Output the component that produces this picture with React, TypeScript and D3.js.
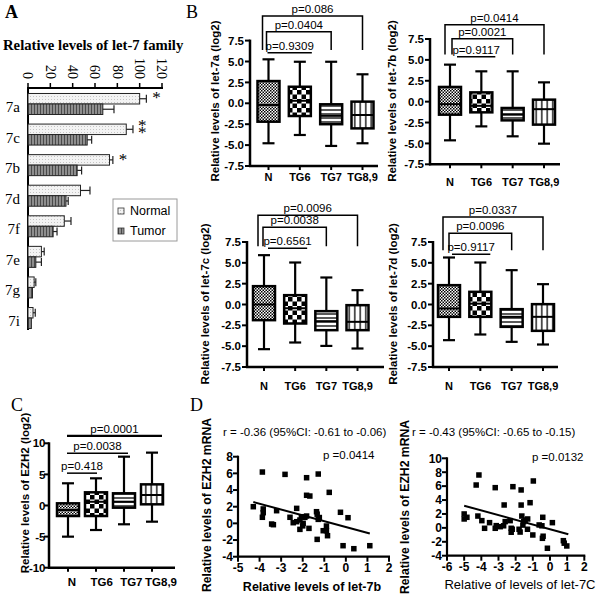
import React from 'react';
import * as d3 from 'd3';

// ---------- Panel A data ----------
const letCats = ['7a', '7c', '7b', '7d', '7f', '7e', '7g', '7i'];
const normalMean = [100, 88, 73, 47, 32.5, 12, 5.5, 4.5];
const normalSem = [6, 6, 3, 8.5, 6, 2.5, 1.5, 2];
const tumorMean = [67, 53, 44, 34, 22.5, 7, 4, 3];
const tumorSem = [10, 4, 4, 2, 3.5, 5, 0, 0];
const sigMarks = ['*', '**', '*', '', '', '', '', ''];
const aTicks = [0, 20, 40, 60, 80, 100, 120];

// ---------- Panel B / C data ----------
const groups = ['N', 'TG6', 'TG7', 'TG8,9'];
// [min, q1, median, q3, max]
const let7aStats = [[-4.78, -2.2, -0.2, 2.66, 5.26], [-3.79, -1.52, 0.3, 1.98, 4.97], [-5.1, -2.5, -1.5, -0.12, 4.97], [-4.78, -3.0, -1.4, 0.2, 3.47]];
const let7bStats = [[-4.63, -1.56, -0.3, 1.76, 4.43], [-2.96, -1.28, -0.5, 1.11, 3.63], [-4.15, -2.24, -1.56, -0.76, 3.63], [-5.03, -2.75, -0.9, 0.24, 2.31]];
const let7cStats = [[-5.36, -1.88, 0, 2.2, 5.92], [-4.56, -2.28, -0.45, 1.12, 5.04], [-4.97, -3.08, -2.0, -0.8, 3.24], [-5.28, -3.08, -2.08, -0.08, 1.72]];
const let7dStats = [[-4.28, -1.48, -0.48, 2.32, 5.64], [-3.6, -1.48, 0.1, 1.52, 5.04], [-4.48, -2.68, -1.48, -0.56, 4.12], [-4.8, -3.16, -1.48, 0.04, 2.44]];
const ezh2Stats = [[-5.01, -1.69, -0.72, 0.35, 3.57], [-3.94, -1.69, 0.6, 2.12, 4.37], [-3.02, -0.35, 0.61, 1.96, 7.85], [-2.6, 0.19, 1.69, 3.4, 8.5]];

const pTargets = [3, 2, 1];
const let7aP = ['p=0.086', 'p=0.0404', 'p=0.9309'];
const let7aPLevel = [10.43, 8.55, 6.05];
const let7aPLeg = [6.37, 6.37, 6.05];
const let7bP = ['p=0.0414', 'p=0.0021', 'p=0.9117'];
const let7bPLevel = [9.22, 7.54, 5.39];
const let7bPLeg = [5.63, 5.63, 5.39];
const let7cP = ['p=0.0096', 'p=0.0038', 'p=0.6561'];
const let7cPLevel = [10.72, 9.28, 6.76];
const let7cPLeg = [7.0, 7.0, 6.76];
const let7dP = ['p=0.0337', 'p=0.0096', 'p=0.9117'];
const let7dPLevel = [10.5, 8.56, 6.04];
const let7dPLeg = [6.5, 6.5, 6.04];
const ezh2P = ['p=0.0001', 'p=0.0038', 'p=0.418'];
const ezh2PLevel = [11.2, 8.4, 5.2];

const bTicks = [-7.5, -5, -2.5, 0, 2.5, 5, 7.5];
const cTicks = [-10, -5, 0, 5, 10];

// ---------- Panel D data ----------
const let7bX = [-4.29, -3.87, -2.82, -1.82, -1.28, -1.82, -1.67, -0.77, -3.83, -3.83, -3.87, -3.21, -3.44, -3.36, -2.59, -2.28, -2.44, -2.28, -2.13, -2.06, -2.13, -1.98, -1.9, -1.82, -1.71, -2.0, -1.36, -1.33, -1.28, -1.23, -1.33, -1.05, -0.9, -0.9, -0.85, -0.25, 0.1, -0.13, 0.37, 1.11];
const ezhY1 = [2.0, 6.16, 5.88, 5.48, 5.92, 3.37, 3.28, 3.72, 1.73, 1.28, 0.73, 1.52, -0.08, -0.16, 0.73, 1.8, 0.08, 0.2, 0.4, 0.8, -0.72, 0.0, 0.72, 0.88, -0.6, -0.3, 1.4, 1.1, 0.48, 0.7, -1.92, -0.88, -0.88, -0.32, -1.48, 1.33, 0.68, -2.68, -3.04, -2.68];
const let7cX = [-5.0, -5.0, -4.84, -4.3, -4.14, -4.2, -3.97, -3.81, -3.52, -3.19, -3.19, -3.13, -2.9, -2.67, -2.61, -2.7, -2.32, -2.26, -2.16, -2.26, -2.2, -1.8, -1.74, -1.68, -1.68, -1.64, -1.53, -1.58, -1.45, -1.3, -1.31, -1.16, -1.0, -0.97, -0.63, -0.47, -0.42, -0.44, -0.4, -0.15, 0.14, 0.78, 0.98, 0.83];
const ezhY2 = [2.0, 1.28, 1.52, 6.16, 7.6, 1.7, 1.04, -0.06, 0.75, 5.78, -0.06, 0.32, 0.17, 3.29, 0.9, 0.3, 1.04, -0.06, 5.92, -0.63, -0.2, -0.2, -0.6, 5.45, 3.28, 1.7, 0.9, 0.4, 1.13, 1.28, -0.2, 3.62, -1.02, 6.74, 0.42, 0.3, 1.52, -1.5, -1.2, -2.93, 0.75, -1.84, -2.6, -2.2];
const fit1 = { slope: -0.70, intercept: -0.44, x0: -4.29, x1: 1.11 };
const fit2 = { slope: -0.677, intercept: -0.2, x0: -5.0, x1: 1.07 };

const SANS = 'Arial, "Liberation Sans", Helvetica, sans-serif';
const SERIF = '"Times New Roman", "Liberation Serif", serif';

function Patterns() {
  return (
    <defs>
      <pattern id="pDots" width="3" height="3" patternUnits="userSpaceOnUse">
        <rect width="3" height="3" fill="#fff" />
        <rect width="1.5" height="1.5" fill="#000" />
        <rect x="1.5" y="1.5" width="1.5" height="1.5" fill="#000" />
      </pattern>
      <pattern id="pChecker" width="9" height="9" patternUnits="userSpaceOnUse">
        <rect width="9" height="9" fill="#fff" />
        <rect width="4.5" height="4.5" fill="#000" />
        <rect x="4.5" y="4.5" width="4.5" height="4.5" fill="#000" />
      </pattern>
      <pattern id="pHlines" width="4" height="4" patternUnits="userSpaceOnUse">
        <rect width="4" height="4" fill="#fff" />
        <line x1="0" x2="4" y1="2" y2="2" stroke="#000" strokeWidth="1.3" />
      </pattern>
      <pattern id="pVlines" width="5.5" height="5.5" patternUnits="userSpaceOnUse">
        <rect width="5.5" height="5.5" fill="#fff" />
        <line x1="2.75" x2="2.75" y1="0" y2="5.5" stroke="#000" strokeWidth="1.3" />
      </pattern>
      <pattern id="pNormal" width="3" height="3" patternUnits="userSpaceOnUse">
        <rect width="3" height="3" fill="#f3f3f3" />
        <rect width="1" height="1" fill="#c4c4c4" />
      </pattern>
      <pattern id="pTumor" width="3" height="3" patternUnits="userSpaceOnUse">
        <rect width="3" height="3" fill="#8e8e8e" />
        <rect x="1" width="1" height="3" fill="#4a4a4a" />
      </pattern>
    </defs>
  );
}

const boxFills = ['url(#pDots)', 'url(#pChecker)', 'url(#pHlines)', 'url(#pVlines)'];

function PanelA() {
  const x = d3.scaleLinear().domain([0, 120]).range([28, 162]);
  const y = d3.scaleBand().domain(letCats).range([88.7, 333.3]);
  const mid = (c: string) => (y(c) as number) + y.bandwidth() / 2;
  const bh = 10.5;
  return (
    <g>
      <text x={3} y={50} fontFamily={SERIF} fontWeight="bold" fontSize={14.7}>Relative levels of let-7 family</text>
      {aTicks.map((t) => (
        <g key={t}>
          <line x1={x(t)} x2={x(t)} y1={88} y2={83} stroke="#000" strokeWidth={1.5} />
          <text transform={`translate(${x(t)},79) rotate(90)`} textAnchor="end" dy="0.33em" fontFamily={SERIF} fontSize={14}>{t}</text>
        </g>
      ))}
      <line x1={27} x2={x(120) + 1} y1={88} y2={88} stroke="#000" strokeWidth={2} />
      <line x1={28} x2={28} y1={87} y2={330} stroke="#000" strokeWidth={2} />
      {letCats.map((c, i) => {
        const m = mid(c);
        const nEnd = x(normalMean[i]);
        const tEnd = x(tumorMean[i]);
        const nErr = x(normalMean[i] + normalSem[i]);
        const tErr = x(tumorMean[i] + tumorSem[i]);
        return (
          <g key={c}>
            <text x={20} y={m + 8} textAnchor="end" fontFamily={SERIF} fontSize={15}>{c}</text>
            <rect x={x(0)} y={m - bh} width={nEnd - x(0)} height={bh} fill="url(#pNormal)" stroke="#222" strokeWidth={1} />
            <rect x={x(0)} y={m} width={tEnd - x(0)} height={bh} fill="url(#pTumor)" stroke="#222" strokeWidth={1} />
            {normalSem[i] > 0 && (
              <g stroke="#222" strokeWidth={1.2}>
                <line x1={nEnd} x2={nErr} y1={m - bh / 2} y2={m - bh / 2} />
                <line x1={nErr} x2={nErr} y1={m - bh / 2 - 4} y2={m - bh / 2 + 4} />
              </g>
            )}
            {tumorSem[i] > 0 && (
              <g stroke="#222" strokeWidth={1.2}>
                <line x1={tEnd} x2={tErr} y1={m + bh / 2} y2={m + bh / 2} />
                <line x1={tErr} x2={tErr} y1={m + bh / 2 - 4} y2={m + bh / 2 + 4} />
              </g>
            )}
            {sigMarks[i] === '*' && (
              <text x={nErr + 6} y={m - 0.5} fontFamily={SERIF} fontSize={17}>*</text>
            )}
            {sigMarks[i] === '**' && (
              <text x={nErr + 5} y={m - 3.5} fontFamily={SERIF} fontSize={17}>
                <tspan>*</tspan>
                <tspan x={nErr + 5} dy={6.5}>*</tspan>
              </text>
            )}
          </g>
        );
      })}
      <rect x={113} y={199} width={64} height={42} fill="#fff" stroke="#9a9a9a" strokeWidth={1} />
      <rect x={118} y={208} width={6} height={6} fill="url(#pNormal)" stroke="#333" strokeWidth={0.8} />
      <text x={130} y={214.5} fontFamily={SANS} fontSize={12.5}>Normal</text>
      <rect x={118} y={228} width={6} height={6} fill="url(#pTumor)" stroke="#333" strokeWidth={0.8} />
      <text x={130} y={235} fontFamily={SANS} fontSize={12.5}>Tumor</text>
    </g>
  );
}

type BoxProps = {
  stats: number[][];
  pLabels: string[];
  pLevel: number[];
  pLeg?: number[];
  legs: boolean;
  leftOff: number[];
  rightOff: number[];
  yDomain: [number, number];
  yRange: [number, number];
  ticks: number[];
  fmt: (v: number) => string;
  tickGap: number;
  axisX: number;
  axisXEnd: number;
  catRange: [number, number];
  catLabelRange: [number, number];
  catLabelY: number;
  catFont: number;
  ylabel: string;
  ylabelX: number;
  ylabelY: number;
  firstBold?: boolean;
};

function BoxPanel(p: BoxProps) {
  const y = d3.scaleLinear().domain(p.yDomain).range(p.yRange);
  const x = d3.scalePoint().domain(groups).range(p.catRange);
  const xl = d3.scalePoint().domain(groups).range(p.catLabelRange);
  const bw = 22;
  const cw = 12;
  const base = y(p.yDomain[0]);
  const top = y(p.yDomain[1]);
  return (
    <g>
      <line x1={p.axisX} x2={p.axisX} y1={top - 1} y2={base + 1} stroke="#000" strokeWidth={2.5} />
      <line x1={p.axisX - 1} x2={p.axisXEnd} y1={base} y2={base} stroke="#000" strokeWidth={2.5} />
      {p.ticks.map((t) => (
        <g key={t}>
          <line x1={p.axisX - 5} x2={p.axisX} y1={y(t)} y2={y(t)} stroke="#000" strokeWidth={2} />
          <text x={p.axisX - p.tickGap} y={y(t)} dy="0.36em" textAnchor="end" fontFamily={SANS} fontWeight="bold" fontSize={11.5}>{p.fmt(t)}</text>
        </g>
      ))}
      {groups.map((g) => (
        <g key={g}>
          <line x1={x(g)} x2={x(g)} y1={base} y2={base + 4} stroke="#000" strokeWidth={2} />
          <text x={xl(g)} y={p.catLabelY} textAnchor="middle" fontFamily={SANS} fontWeight="bold" fontSize={p.catFont}>{g}</text>
        </g>
      ))}
      {p.stats.map((s, i) => {
        const cx = x(groups[i]) as number;
        const [mn, q1, md, q3, mx] = s;
        return (
          <g key={i} stroke="#000">
            <line x1={cx} x2={cx} y1={y(mx)} y2={y(q3)} strokeWidth={2.2} />
            <line x1={cx} x2={cx} y1={y(q1)} y2={y(mn)} strokeWidth={2.2} />
            <line x1={cx - cw / 2} x2={cx + cw / 2} y1={y(mx)} y2={y(mx)} strokeWidth={2.2} />
            <line x1={cx - cw / 2} x2={cx + cw / 2} y1={y(mn)} y2={y(mn)} strokeWidth={2.2} />
            <rect x={cx - bw / 2} y={y(q3)} width={bw} height={y(q1) - y(q3)} fill={boxFills[i]} strokeWidth={2.5} />
            <line x1={cx - bw / 2} x2={cx + bw / 2} y1={y(md)} y2={y(md)} strokeWidth={2} />
          </g>
        );
      })}
      {p.pLabels.map((lab, i) => {
        const left = (x(groups[0]) as number) + p.leftOff[i];
        const right = (x(groups[pTargets[i]]) as number) + p.rightOff[i];
        const ty = y(p.pLevel[i]);
        const hasLegs = p.legs && p.pLeg && p.pLeg[i] < p.pLevel[i] - 0.01;
        const d = hasLegs
          ? `M${left},${y(p.pLeg![i])}V${ty}H${right}V${y(p.pLeg![i])}`
          : `M${left},${ty}H${right}`;
        return (
          <g key={lab + i}>
            <path d={d} fill="none" stroke="#000" strokeWidth={i === 0 && p.firstBold ? 2.2 : 1.5} />
            <text x={(left + right) / 2} y={ty - 3} textAnchor="middle" fontFamily={SANS} fontSize={11.5}>{lab}</text>
          </g>
        );
      })}
      <text transform={`translate(${p.ylabelX},${p.ylabelY}) rotate(-90)`} textAnchor="middle" dy="0.35em" fontFamily={SANS} fontWeight="bold" fontSize={11.5}>{p.ylabel}</text>
    </g>
  );
}

type ScatterProps = {
  xs: number[];
  ys: number[];
  xDomain: [number, number];
  xRange: [number, number];
  yDomain: [number, number];
  yRange: [number, number];
  xTicks: number[];
  yTicks: number[];
  fit: { slope: number; intercept: number; x0: number; x1: number };
  rText: string;
  rX: number;
  pText: string;
  pX: number;
  pY: number;
  xlabel: string;
  xlabelX: number;
  xlabelY: number;
  xlabelBold: boolean;
  ylabelX: number;
  ylabelY: number;
};

function ScatterPanel(p: ScatterProps) {
  const x = d3.scaleLinear().domain(p.xDomain).range(p.xRange);
  const y = d3.scaleLinear().domain(p.yDomain).range(p.yRange);
  const x0 = x(p.xDomain[0]);
  const y0 = y(p.yDomain[0]);
  const ms = 5.5;
  return (
    <g>
      <line x1={x0} x2={x0} y1={y(p.yDomain[1]) - 1} y2={y0 + 1} stroke="#000" strokeWidth={2.2} />
      <line x1={x0 - 1} x2={x(p.xDomain[1]) + 1} y1={y0} y2={y0} stroke="#000" strokeWidth={2.2} />
      {p.yTicks.map((t) => (
        <g key={t}>
          <line x1={x0 - 5} x2={x0} y1={y(t)} y2={y(t)} stroke="#000" strokeWidth={2} />
          <text x={x0 - 5} y={y(t)} dy="0.36em" textAnchor="end" fontFamily={SANS} fontWeight="bold" fontSize={12}>{String(t)}</text>
        </g>
      ))}
      {p.xTicks.map((t) => (
        <g key={t}>
          <line x1={x(t)} x2={x(t)} y1={y0} y2={y0 + 5} stroke="#000" strokeWidth={2} />
          <text x={x(t)} y={y0 + 15} textAnchor="middle" fontFamily={SANS} fontWeight="bold" fontSize={12}>{String(t)}</text>
        </g>
      ))}
      {p.xs.map((v, i) => (
        <rect key={i} x={x(v) - ms / 2} y={y(p.ys[i]) - ms / 2} width={ms} height={ms} fill="#000" />
      ))}
      <line x1={x(p.fit.x0)} x2={x(p.fit.x1)} y1={y(p.fit.intercept + p.fit.slope * p.fit.x0)} y2={y(p.fit.intercept + p.fit.slope * p.fit.x1)} stroke="#000" strokeWidth={2} />
      <text transform={`translate(${p.ylabelX},${p.ylabelY}) rotate(-90)`} textAnchor="middle" dy="0.35em" fontFamily={SANS} fontWeight="bold" fontSize={12.2}>Relative levels of EZH2 mRNA</text>
      <text x={p.rX} y={436} fontFamily={SANS} fontSize={11.5}>{p.rText}</text>
      <text x={p.pX} y={p.pY} fontFamily={SANS} fontSize={11.5}>{p.pText}</text>
      <text x={p.xlabelX} y={p.xlabelY} textAnchor="middle" fontFamily={SANS} fontWeight={p.xlabelBold ? 'bold' : 'normal'} fontSize={p.xlabelBold ? 12.5 : 13}>{p.xlabel}</text>
    </g>
  );
}

const fmtB = (v: number) => v.toFixed(1);
const fmtC = (v: number) => String(v);

export default function App() {
  return (
    <svg width={603} height={598} style={{ position: 'absolute', left: 0, top: 0, background: '#fff' }}>
      <Patterns />
      <rect width={603} height={598} fill="#fff" />
      <text x={5} y={18} fontFamily={SERIF} fontWeight="bold" fontSize={18}>A</text>
      <text x={186} y={18} fontFamily={SERIF} fontSize={18}>B</text>
      <text x={11} y={411} fontFamily={SERIF} fontSize={18}>C</text>
      <text x={190} y={411} fontFamily={SERIF} fontSize={18}>D</text>
      <PanelA />
      <BoxPanel stats={let7aStats} pLabels={let7aP} pLevel={let7aPLevel} pLeg={let7aPLeg} legs={true}
        leftOff={[-6, -2, -1]} rightOff={[0, 0, 12]} yDomain={[-7.5, 7.5]} yRange={[166, 40.6]} ticks={bTicks} fmt={fmtB} tickGap={6}
        axisX={250} axisXEnd={378} catRange={[268.5, 362.5]} catLabelRange={[268.5, 362.5]} catLabelY={181} catFont={11}
        ylabel="Relative levels of let-7a (log2)" ylabelX={215} ylabelY={101} />
      <BoxPanel stats={let7bStats} pLabels={let7bP} pLevel={let7bPLevel} pLeg={let7bPLeg} legs={true}
        leftOff={[-5, 2, 7]} rightOff={[0, 0, 14]} yDomain={[-7.5, 7.5]} yRange={[164.3, 39]} ticks={bTicks} fmt={fmtB} tickGap={6}
        axisX={430} axisXEnd={560} catRange={[450, 544]} catLabelRange={[450, 544]} catLabelY={186} catFont={11}
        ylabel="Relative levels of let-7b (log2)" ylabelX={392} ylabelY={101} />
      <BoxPanel stats={let7cStats} pLabels={let7cP} pLevel={let7cPLevel} pLeg={let7cPLeg} legs={true}
        leftOff={[-6, -1, 4]} rightOff={[0, 0, 12]} yDomain={[-7.5, 7.5]} yRange={[367, 242]} ticks={bTicks} fmt={fmtB} tickGap={6}
        axisX={247} axisXEnd={384} catRange={[264, 357.5]} catLabelRange={[264, 357.5]} catLabelY={390} catFont={11}
        ylabel="Relative levels of let-7c (log2)" ylabelX={205} ylabelY={304} />
      <BoxPanel stats={let7dStats} pLabels={let7dP} pLevel={let7dPLevel} pLeg={let7dPLeg} legs={true}
        leftOff={[-6, 0, 3]} rightOff={[0, 0, 10]} yDomain={[-7.5, 7.5]} yRange={[367, 242]} ticks={bTicks} fmt={fmtB} tickGap={6}
        axisX={433} axisXEnd={558} catRange={[449, 543]} catLabelRange={[449, 543]} catLabelY={390} catFont={11}
        ylabel="Relative levels of let-7d (log2)" ylabelX={393} ylabelY={304} />
      <BoxPanel stats={ezh2Stats} pLabels={ezh2P} pLevel={ezh2PLevel} legs={false} firstBold={true}
        leftOff={[-1, -1, -1]} rightOff={[10, 4, 1]} yDomain={[-10, 10]} yRange={[567.7, 443.3]} ticks={cTicks} fmt={fmtC} tickGap={3.5}
        axisX={49} axisXEnd={175} catRange={[68, 152]} catLabelRange={[72, 161]} catLabelY={586} catFont={11.5}
        ylabel="Relative levels of EZH2 (log2)" ylabelX={25} ylabelY={493} />
      <ScatterPanel xs={let7bX} ys={ezhY1} xDomain={[-5, 2]} xRange={[238, 389]} yDomain={[-4, 8]} yRange={[556.7, 456.7]}
        xTicks={[-5, -4, -3, -2, -1, 0, 1, 2]} yTicks={[-4, -2, 0, 2, 4, 6, 8]} fit={fit1}
        rText="r = -0.36 (95%CI: -0.61 to -0.06)" rX={223} pText="p =0.0414" pX={323} pY={459}
        xlabel="Relative levels of let-7b" xlabelX={312} xlabelY={591} xlabelBold={true} ylabelX={207} ylabelY={505} />
      <ScatterPanel xs={let7cX} ys={ezhY2} xDomain={[-6, 2]} xRange={[447, 584.3]} yDomain={[-4, 10]} yRange={[555.7, 458.3]}
        xTicks={[-6, -5, -4, -3, -2, -1, 0, 1, 2]} yTicks={[-4, -2, 0, 2, 4, 6, 8, 10]} fit={fit2}
        rText="r = -0.43 (95%CI: -0.65  to -0.15)" rX={412} pText="p =0.0132" pX={532} pY={461}
        xlabel="Relative of levels of let-7C" xlabelX={520} xlabelY={589} xlabelBold={false} ylabelX={405} ylabelY={507} />
    </svg>
  );
}
